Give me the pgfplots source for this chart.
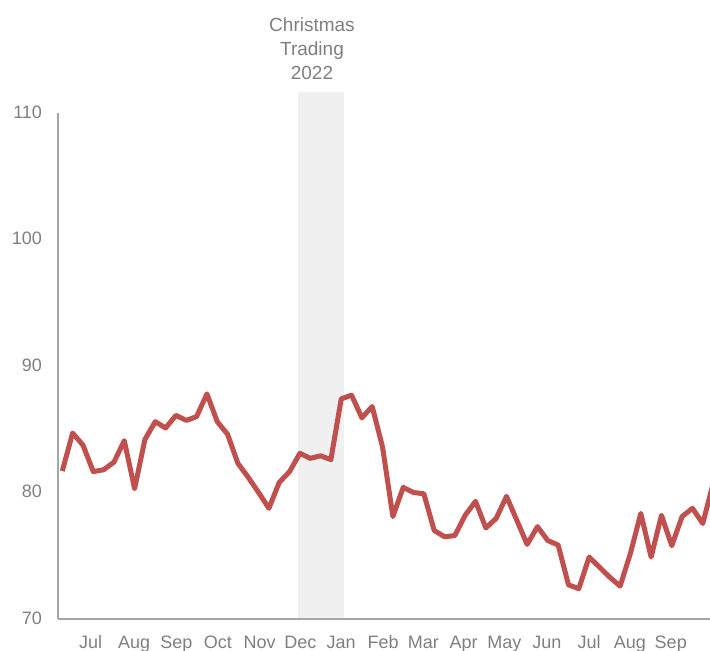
\documentclass[border=0pt]{standalone}
\usepackage{pgfplots}
\usepackage{pgfplotstable}
\pgfplotsset{compat=1.18}
\usepackage{fontspec}
\setmainfont{Liberation Sans}
\definecolor{txtgray}{HTML}{7F7F7F}
\definecolor{axgray}{HTML}{A6A6A6}
\definecolor{shade}{HTML}{F0F0F0}
\definecolor{linered}{HTML}{C0504D}

\pgfplotstableread{
w v
0 81.7
1 84.7
2 83.75
3 81.65
4 81.8
5 82.4
6 84.1
7 80.3
8 84.2
9 85.6
10 85.1
11 86.1
12 85.7
13 86.0
14 87.8
15 85.6
16 84.6
17 82.3
18 81.2
19 80.0
20 78.75
21 80.8
22 81.65
23 83.1
24 82.7
25 82.9
26 82.6
27 87.4
28 87.7
29 85.9
30 86.8
31 83.6
32 78.1
33 80.4
34 80.0
35 79.9
36 77.0
37 76.5
38 76.6
39 78.2
40 79.3
41 77.2
42 77.95
43 79.7
44 77.8
45 75.9
46 77.3
47 76.2
48 75.85
49 72.7
50 72.4
51 74.9
52 74.1
53 73.3
54 72.6
55 75.2
56 78.35
57 74.9
58 78.2
59 75.8
60 78.1
61 78.75
62 77.55
63 80.7
}\datatable

\begin{document}
\begin{tikzpicture}[x=1pt,y=1pt]
\useasboundingbox (0,0) rectangle (710,651);
\begin{axis}[
  at={(58pt,32pt)}, anchor=south west,
  scale only axis, width=652pt, height=526.7pt,
  xmin=-0.416, xmax=62.7, ymin=70, ymax=111.64,
  axis x line*=bottom, axis y line*=left,
  axis line style={-},
  x axis line style={draw=axgray, line width=1.5pt},
  y axis line style={draw=none},
  axis on top,
  xtick={2.75,6.95,11.05,15.05,19.1,23.05,27.0,31.05,34.95,38.85,42.8,46.9,51.0,54.95,58.9},
  xticklabels={Jul,Aug,Sep,Oct,Nov,Dec,Jan,Feb,Mar,Apr,May,Jun,Jul,Aug,Sep},
  ytick={70,80,90,100,110},
  major tick length=0pt,
  tick label style={font=\fontsize{18}{22}\selectfont, text=txtgray},
  yticklabel style={xshift=-12.5pt, yshift=1pt},
  xticklabel style={anchor=base, yshift=-29.5pt},
  /pgf/number format/assume math mode=true,
]
\addplot[fill=shade, draw=none, forget plot] coordinates {(22.79,70) (22.79,111.64) (27.27,111.64) (27.27,70)} -- cycle;
\addplot[linered, line width=5pt, line join=round, no markers] table[x=w, y=v] {\datatable};
\coordinate (yb) at (axis cs:-0.416,70);
\coordinate (yt) at (axis cs:-0.416,110);
\coordinate (c1) at (axis cs:24.17,116.43);
\coordinate (c2) at (axis cs:24.17,114.58);
\coordinate (c3) at (axis cs:24.17,112.69);
\end{axis}
\draw[axgray, line width=1.5pt] (yb) -- (yt);
\begin{scope}[every node/.style={anchor=base, text=txtgray, font=\fontsize{19}{23}\selectfont, inner sep=0pt}]
\node at (c1) {Christmas};
\node at (c2) {Trading};
\node at (c3) {2022};
\end{scope}
\end{tikzpicture}
\end{document}
